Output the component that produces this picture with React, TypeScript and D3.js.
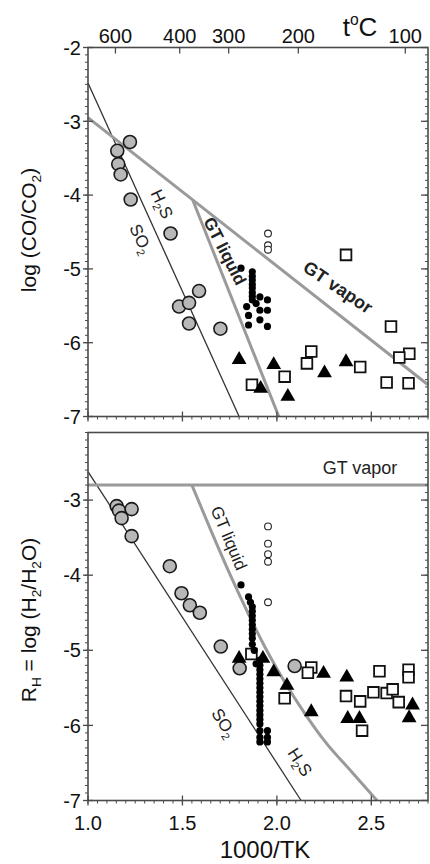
import React from 'react'
import * as d3 from 'd3'

// ---- data ----
const tempTicks = [600, 400, 300, 200, 100]
const xTickLabels = [1.0, 1.5, 2.0, 2.5]
const topYTicks = [-2, -3, -4, -5, -6, -7]
const botYTicks = [-3, -4, -5, -6, -7]

// upper panel: log(CO/CO2)
const topSulfurLine = [[1.0, -2.48], [1.8, -7.0]]
const topVaporLine = [[1.0, -2.95], [2.8, -6.57]]
const topLiquidLine = [[1.555, -4.07], [2.01, -7.0]]

const topGrayCircles = [
  [1.222, -3.28], [1.155, -3.4], [1.16, -3.58], [1.173, -3.72], [1.226, -4.06],
  [1.437, -4.52], [1.588, -5.3], [1.482, -5.51], [1.535, -5.46], [1.535, -5.74], [1.701, -5.81],
]
const topBlackDots = [
  [1.81, -4.99], [1.87, -5.04], [1.87, -5.1], [1.87, -5.15], [1.87, -5.21], [1.87, -5.26],
  [1.87, -5.32], [1.87, -5.37], [1.87, -5.42], [1.84, -5.51], [1.95, -5.42], [1.91, -5.38],
  [1.85, -5.63], [1.91, -5.56], [1.95, -5.56], [1.91, -5.69], [1.85, -5.76], [1.95, -5.78], [1.89, -5.47],
]
const topOpenCircles = [[1.953, -4.52], [1.953, -4.68], [1.953, -4.74]]
const topSquares = [
  [2.366, -4.81], [2.604, -5.78], [2.701, -6.15], [2.648, -6.2], [2.182, -6.12], [2.159, -6.28],
  [2.441, -6.33], [2.041, -6.46], [1.868, -6.57], [2.581, -6.54], [2.697, -6.55],
]
const topTriangles = [[1.8, -6.23], [1.983, -6.3], [2.252, -6.41], [2.366, -6.26], [1.914, -6.62], [2.058, -6.73]]

// lower panel: RH = log(H2/H2O)
const botSulfurLine = [[1.0, -2.62], [2.128, -7.0]]
const botVaporLine = [[1.0, -2.8], [2.8, -2.8]]
const botLiquidCurve = [
  [1.55, -2.8], [1.65, -3.4], [1.75, -3.98], [1.85, -4.52], [1.95, -5.02],
  [2.05, -5.46], [2.15, -5.85], [2.25, -6.2], [2.4, -6.63], [2.53, -7.0],
]
const botGrayCircles = [
  [1.152, -3.08], [1.164, -3.14], [1.231, -3.12], [1.178, -3.24], [1.231, -3.48], [1.433, -3.88],
  [1.495, -4.24], [1.539, -4.4], [1.592, -4.5], [1.703, -4.95], [1.803, -5.24], [2.094, -5.21],
]
const botBlackDots = [
  [1.81, -4.13], [1.85, -4.29], [1.86, -4.36], [1.87, -4.42], [1.87, -4.48], [1.87, -4.54], [1.87, -4.6],
  [1.87, -4.66], [1.87, -4.72], [1.87, -4.78], [1.87, -4.84], [1.88, -5.0], [1.87, -4.92], [1.91, -5.13],
  [1.89, -5.18], [1.91, -5.2], [1.91, -5.26], [1.91, -5.32], [1.91, -5.38], [1.91, -5.44], [1.91, -5.5],
  [1.91, -5.56], [1.91, -5.62], [1.91, -5.68], [1.91, -5.74], [1.91, -5.8], [1.91, -5.86], [1.91, -5.92],
  [1.91, -5.98], [1.91, -6.07], [1.95, -6.07], [1.91, -6.16], [1.95, -6.16], [1.91, -6.22], [1.95, -6.22],
]
const botOpenCircles = [[1.953, -3.35], [1.953, -3.58], [1.953, -3.72], [1.953, -3.82], [1.953, -4.36]]
const botSquares = [
  [1.865, -5.05], [2.041, -5.64], [2.182, -5.23], [2.164, -5.3], [2.543, -5.28], [2.697, -5.26],
  [2.697, -5.36], [2.366, -5.61], [2.441, -5.68], [2.511, -5.56], [2.581, -5.57], [2.613, -5.52],
  [2.645, -5.69], [2.451, -6.07],
]
const botTriangles = [
  [1.8, -5.11], [1.926, -5.11], [1.983, -5.29], [2.053, -5.47], [2.247, -5.31], [2.37, -5.36],
  [2.182, -5.82], [2.375, -5.91], [2.437, -5.91], [2.718, -5.73], [2.7, -5.9],
]

const FONT = '"Liberation Sans", Arial, sans-serif'
const AXIS = '#4a4a4a'
const GRAY = '#9a9a9a'

const x = d3.scaleLinear().domain([1.0, 2.8]).range([88, 428])
const yTop = d3.scaleLinear().domain([-7, -2]).range([416.5, 47.5])
const yBot = d3.scaleLinear().domain([-7, -2.1]).range([800.5, 432.5])

const tri = d3.symbol(d3.symbolTriangle, 95)()
const sq = d3.symbol(d3.symbolSquare, 115)()

const Marks = ({ y, gray, black, open, squares, triangles }) => (
  <g>
    {gray.map((d, i) => (
      <circle key={'g' + i} cx={x(d[0])} cy={y(d[1])} r={6.5} fill="#b8b8b8" stroke="#1a1a1a" strokeWidth={1.6} />
    ))}
    {squares.map((d, i) => (
      <path key={'s' + i} d={sq} transform={`translate(${x(d[0])},${y(d[1])})`} fill="#fff" stroke="#111" strokeWidth={1.8} />
    ))}
    {triangles.map((d, i) => (
      <path key={'t' + i} d={tri} transform={`translate(${x(d[0])},${y(d[1])})`} fill="#000" />
    ))}
    {black.map((d, i) => (
      <circle key={'b' + i} cx={x(d[0])} cy={y(d[1])} r={3.6} fill="#000" />
    ))}
    {open.map((d, i) => (
      <circle key={'o' + i} cx={x(d[0])} cy={y(d[1])} r={3.4} fill="#fff" stroke="#222" strokeWidth={1.1} />
    ))}
  </g>
)

const Frame = ({ y, yTicks, showXLabels, topTemp }) => {
  const [y0, y1] = y.range()
  const [d0, d1] = y.domain()
  const yMinor = d3.range(Math.round(d0 * 10), Math.round(d1 * 10) + 1).map(v => v / 10)
  const xMinor = d3.range(20, 57).map(v => v / 20)
  return (
    <g stroke={AXIS} fontFamily={FONT}>
      <rect x={88} y={y1} width={340} height={y0 - y1} fill="none" strokeWidth={1.6} />
      {yMinor.map(v => (
        <g key={'ym' + v}>
          <line x1={85} x2={88} y1={y(v)} y2={y(v)} strokeWidth={1} />
          <line x1={425} x2={428} y1={y(v)} y2={y(v)} strokeWidth={1} />
        </g>
      ))}
      {yTicks.map(v => (
        <g key={'y' + v}>
          <line x1={83} x2={93} y1={y(v)} y2={y(v)} strokeWidth={1.3} />
          <line x1={421} x2={428} y1={y(v)} y2={y(v)} strokeWidth={1.3} />
          <text x={81} y={y(v)} dy="0.36em" textAnchor="end" fontSize={20} fill="#111" stroke="none">
            {String(v).replace('-', '-')}
          </text>
        </g>
      ))}
      {xMinor.map(v => (
        <line key={'xm' + v} x1={x(v)} x2={x(v)} y1={y0} y2={y0 + 3} strokeWidth={1} />
      ))}
      {xTickLabels.map(v => (
        <line key={'xt' + v} x1={x(v)} x2={x(v)} y1={y0 - 5} y2={y0 + 5} strokeWidth={1.3} />
      ))}
      {showXLabels &&
        xTickLabels.map(v => (
          <text key={'xl' + v} x={x(v)} y={830} textAnchor="middle" fontSize={20} fill="#111" stroke="none">
            {d3.format('.1f')(v)}
          </text>
        ))}
      {topTemp &&
        tempTicks.map(t => (
          <g key={'tc' + t}>
            <line x1={x(1000 / (t + 273.15))} x2={x(1000 / (t + 273.15))} y1={y1} y2={y1 + 6} strokeWidth={1.3} />
            <text x={x(1000 / (t + 273.15))} y={43} textAnchor="middle" fontSize={20} fill="#111" stroke="none">
              {t}
            </text>
          </g>
        ))}
    </g>
  )
}

const line = d3.line().x(d => x(d[0])).y(d => yTop(d[1]))
const lineBot = d3.line().x(d => x(d[0])).y(d => yBot(d[1]))
const curveBot = d3.line().x(d => x(d[0])).y(d => yBot(d[1])).curve(d3.curveMonotoneX)

const Rot = ({ cx, cy, angle, size = 17, bold = false, children }) => (
  <text
    transform={`translate(${cx},${cy}) rotate(${angle})`}
    textAnchor="middle"
    dy="0.35em"
    fontSize={size}
    fontWeight={bold ? 'bold' : 'normal'}
    fontFamily={FONT}
    fill="#222"
  >
    {children}
  </text>
)

const Sub = ({ children }) => (
  <tspan fontSize="0.65em" dy="0.35em">{children}</tspan>
)

export default function App() {
  return (
    <svg width={430} height={864} style={{ position: 'absolute', left: 0, top: 0, background: '#fff' }}>
      {/* upper panel */}
      <path d={line(topSulfurLine)} stroke="#333" strokeWidth={1.3} fill="none" />
      <path d={line(topVaporLine)} stroke={GRAY} strokeWidth={3} fill="none" />
      <path d={line(topLiquidLine)} stroke={GRAY} strokeWidth={3} fill="none" />
      <Marks y={yTop} gray={topGrayCircles} black={topBlackDots} open={topOpenCircles} squares={topSquares} triangles={topTriangles} />
      <Frame y={yTop} yTicks={topYTicks} showXLabels={false} topTemp={true} />
      <text x={360} y={36} textAnchor="middle" fontSize={26} fontFamily={FONT} fill="#111">
        t<tspan fontSize="0.6em" dy="-0.7em">o</tspan><tspan dy="0.42em">C</tspan>
      </text>
      <Rot cx={162} cy={204} angle={65}>H<Sub>2</Sub><tspan dy="-0.23em">S</tspan></Rot>
      <Rot cx={141} cy={239} angle={65}>SO<Sub>2</Sub></Rot>
      <Rot cx={225} cy={251} angle={63} bold>GT liquid</Rot>
      <Rot cx={338} cy={287} angle={34} size={18} bold>GT vapor</Rot>
      <text transform="translate(36,230) rotate(-90)" textAnchor="middle" fontSize={21} fontFamily={FONT} fill="#111">
        log (CO/CO<Sub>2</Sub><tspan dy="-0.23em">)</tspan>
      </text>

      {/* lower panel */}
      <path d={lineBot(botSulfurLine)} stroke="#333" strokeWidth={1.3} fill="none" />
      <path d={lineBot(botVaporLine)} stroke={GRAY} strokeWidth={3} fill="none" />
      <path d={curveBot(botLiquidCurve)} stroke={GRAY} strokeWidth={3} fill="none" />
      <Marks y={yBot} gray={botGrayCircles} black={botBlackDots} open={botOpenCircles} squares={botSquares} triangles={botTriangles} />
      <Frame y={yBot} yTicks={botYTicks} showXLabels={true} topTemp={false} />
      <text x={360} y={468} dy="0.35em" textAnchor="middle" fontSize={18} fontFamily={FONT} fill="#222">GT vapor</text>
      <Rot cx={229} cy={538} angle={67}>GT liquid</Rot>
      <Rot cx={224} cy={723} angle={57}>SO<Sub>2</Sub></Rot>
      <Rot cx={300} cy={762} angle={57}>H<Sub>2</Sub><tspan dy="-0.23em">S</tspan></Rot>
      <text transform="translate(36,620) rotate(-90)" textAnchor="middle" fontSize={21} fontFamily={FONT} fill="#111">
        R<Sub>H</Sub><tspan dy="-0.23em"> = log (H</tspan><Sub>2</Sub><tspan dy="-0.23em">/H</tspan><Sub>2</Sub>
        <tspan dy="-0.23em">O)</tspan>
      </text>
      <text x={265} y={858} textAnchor="middle" fontSize={24} fontFamily={FONT} fill="#111">1000/TK</text>
    </svg>
  )
}
